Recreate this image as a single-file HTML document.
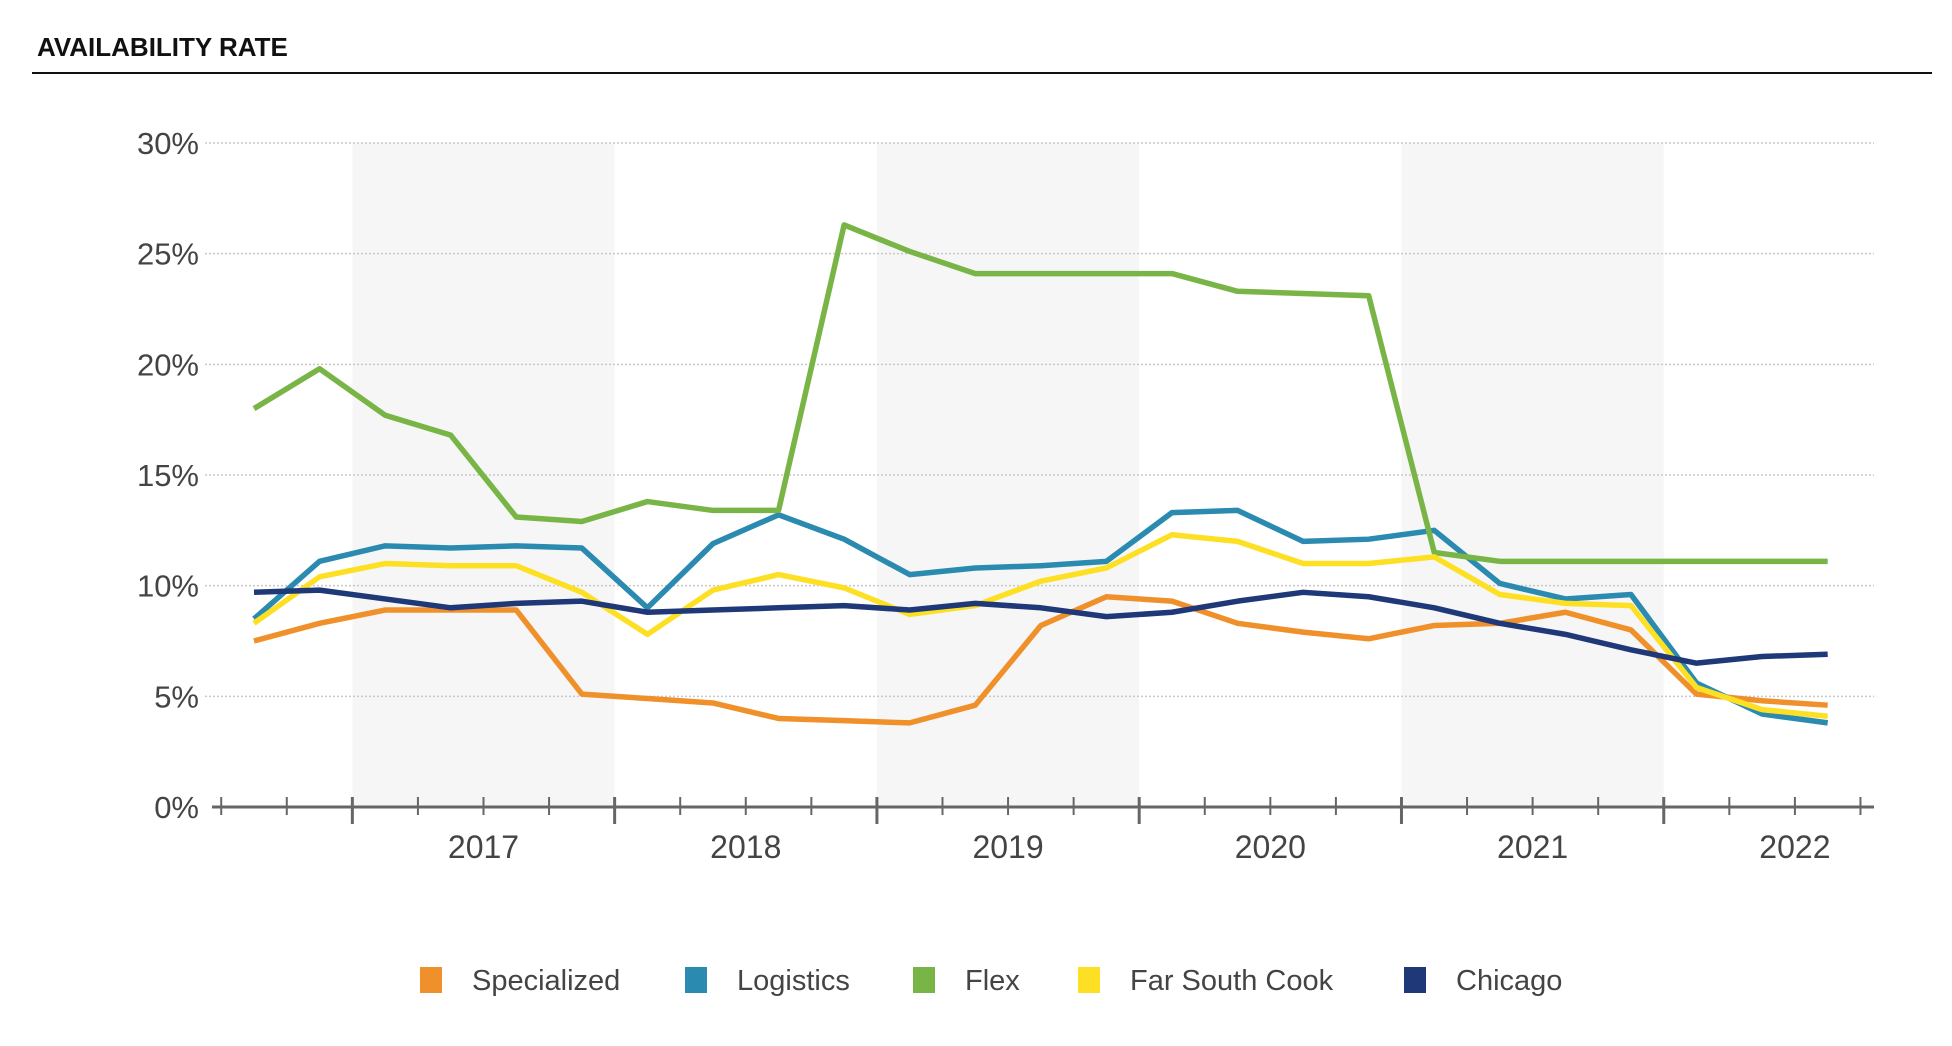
<!DOCTYPE html>
<html><head><meta charset="utf-8"><style>
body{margin:0;background:#fff;width:1952px;height:1041px;overflow:hidden;font-family:"Liberation Sans",sans-serif}
</style></head><body>
<svg id="chart" width="1952" height="1041" xmlns="http://www.w3.org/2000/svg" font-family="Liberation Sans, sans-serif">
<text x="37" y="56" font-size="26" font-weight="bold" fill="#111">AVAILABILITY RATE</text>
<line x1="32" y1="73" x2="1932" y2="73" stroke="#111" stroke-width="2"/>
<g id="bands"></g><g id="grid"></g><g id="axis"></g><g id="lines"></g><g id="legend"></g>
</svg>
<script>
const years=["2017","2018","2019","2020","2021","2022"];
const yTicks=[0,5,10,15,20,25,30];
const specialized=[7.5,8.3,8.9,8.9,8.9,5.1,4.9,4.7,4.0,3.9,3.8,4.6,8.2,9.5,9.3,8.3,7.9,7.6,8.2,8.3,8.8,8.0,5.1,4.8,4.6];
const logistics=[8.5,11.1,11.8,11.7,11.8,11.7,9.0,11.9,13.2,12.1,10.5,10.8,10.9,11.1,13.3,13.4,12.0,12.1,12.5,10.1,9.4,9.6,5.6,4.2,3.8];
const flex=[18.0,19.8,17.7,16.8,13.1,12.9,13.8,13.4,13.4,26.3,25.1,24.1,24.1,24.1,24.1,23.3,23.2,23.1,11.5,11.1,11.1,11.1,11.1,11.1,11.1];
const farSouthCook=[8.3,10.4,11.0,10.9,10.9,9.7,7.8,9.8,10.5,9.9,8.7,9.1,10.2,10.8,12.3,12.0,11.0,11.0,11.3,9.6,9.2,9.1,5.4,4.4,4.1];
const chicago=[9.7,9.8,9.4,9.0,9.2,9.3,8.8,8.9,9.0,9.1,8.9,9.2,9.0,8.6,8.8,9.3,9.7,9.5,9.0,8.3,7.8,7.1,6.5,6.8,6.9];
const seriesNames=["Specialized","Logistics","Flex","Far South Cook","Chicago"];
const NS="http://www.w3.org/2000/svg";
const Q=65.57, X0=254;
const x=i=>X0+Q*i;
const y=v=>807-v*(664/30);
function mk(tag,attrs,parent){const e=document.createElementNS(NS,tag);for(const k in attrs)e.setAttribute(k,attrs[k]);parent.appendChild(e);return e;}
const bands=document.getElementById('bands'),grid=document.getElementById('grid'),axis=document.getElementById('axis'),lines=document.getElementById('lines'),legend=document.getElementById('legend');
years.forEach((yr,k)=>{
  const x0=x(2+4*k)-Q/2;
  if(k%2===0){const r=mk('rect',{x:x0,y:y(30),width:4*Q,height:y(0)-y(30),fill:'#f6f6f6'},bands);
    
    }
  const t=mk('text',{x:x0+2*Q-(k===5?Q*0.5:0)+(k===5?Q*0.5:0),y:858,'font-size':32,fill:'#444','text-anchor':'middle'},axis);
  t.textContent=yr;
  
  
});
yTicks.forEach(v=>{
  if(v>0){const l=mk('line',{x1:205,x2:1874,y1:y(v),y2:y(v),stroke:'#c8c8c8','stroke-width':1.5,'stroke-dasharray':'2,2'},grid);
    
    }
  const t=mk('text',{x:199,y:y(v)+11,'font-size':31,fill:'#444','text-anchor':'end'},grid);
  t.textContent=v+'%';
  
  
});
const ax=mk('line',{x1:212,x2:1874,y1:y(0),y2:y(0),stroke:'#666','stroke-width':3},axis);


for(let i=0;i<=25;i++){
  const tx=x(i)-Q/2, big=(i-2)%4===0;
  const t=mk('line',{x1:tx,x2:tx,y1:y(0)-10,y2:y(0)+(big?17:8),stroke:'#666','stroke-width':big?3:2},axis);
  
  
}
const data=[specialized,logistics,flex,farSouthCook,chicago];
const colors=['#f0902a','#2a8ab0','#79b546','#fde024','#1e3878'];
[0,1,2,3,4].forEach(s=>{
  const p=mk('polyline',{points:data[s].map((v,i)=>x(i)+','+y(v)).join(' '),fill:'none',stroke:colors[s],'stroke-width':5.5,'stroke-linejoin':'round'},lines);
  
  
});
const lx=[420,685,913,1078,1404];
seriesNames.forEach((n,s)=>{
  const r=mk('rect',{x:lx[s],y:967,width:22,height:26,fill:colors[s]},legend);
  
  
  const t=mk('text',{x:lx[s]+52,y:990,'font-size':29,fill:'#444'},legend);
  t.textContent=n;
  
  
});
</script>
</body></html>
